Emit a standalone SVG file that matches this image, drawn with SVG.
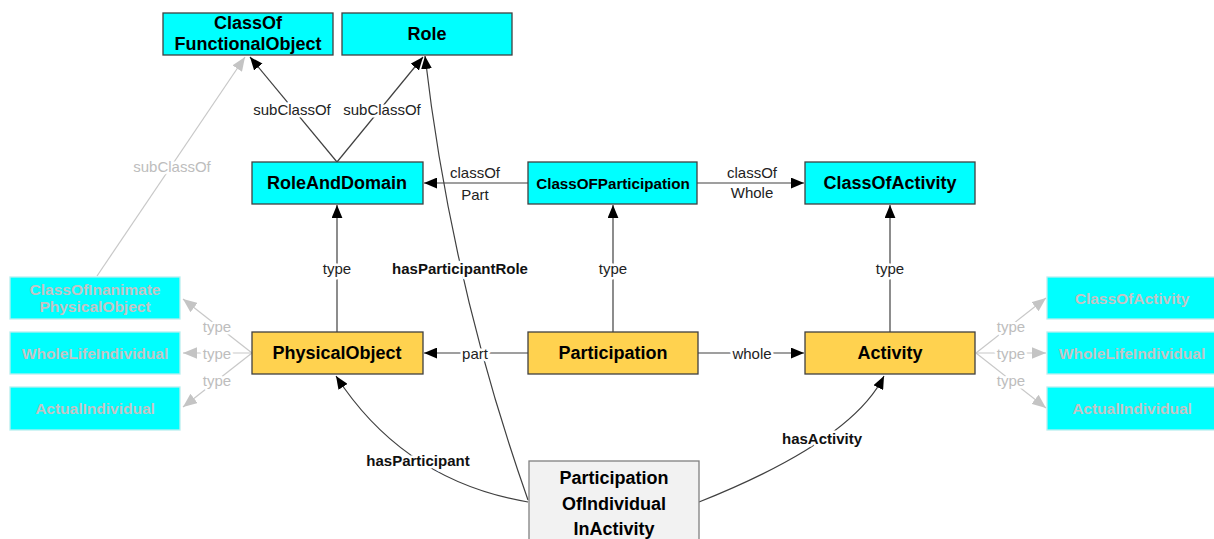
<svg xmlns="http://www.w3.org/2000/svg" width="1214" height="539" viewBox="0 0 1214 539">
<defs>
<style>
.n rect{stroke:#404040;stroke-width:1.3}
.cyan rect{fill:#00FFFF}
.orange rect{fill:#FFD24F}
.grey rect{fill:#F2F2F2;stroke:#808080}
.faded rect{fill:#00FFFF;stroke:#B8EFEF}
.n text{font-family:"Liberation Sans",Arial,sans-serif;font-weight:bold;font-size:18px;fill:#000;text-anchor:middle;dominant-baseline:central}
.faded text{fill:#C4C4C4;font-size:15.5px}
.sm text{font-size:15.2px}
.e{fill:none;stroke:#404040;stroke-width:1.2}
.ef{fill:none;stroke:#C8C8C8;stroke-width:1.2}
.lbl{font-family:"Liberation Sans",Arial,sans-serif;font-size:15px;fill:#222;text-anchor:middle;dominant-baseline:central;paint-order:stroke;stroke:#fff;stroke-width:5px;stroke-linejoin:round}
.lb{font-weight:bold;fill:#111}
.lf{fill:#BDBDBD}
</style>
<marker id="a" viewBox="0 0 12 10" refX="12" refY="5" markerWidth="13" markerHeight="11" markerUnits="userSpaceOnUse" orient="auto"><path d="M0,0 L12,5 L0,10 z" fill="#000"/></marker>
<marker id="af" viewBox="0 0 12 10" refX="12" refY="5" markerWidth="14" markerHeight="12" markerUnits="userSpaceOnUse" orient="auto"><path d="M0,0 L12,5 L0,10 z" fill="#C4C4C4"/></marker>
</defs>
<rect width="1214" height="539" fill="#fff"/>
<g id="connectors">
<path class="e" d="M337,162 L250,57" marker-end="url(#a)"/>
<path class="e" d="M337,162 L423,57" marker-end="url(#a)"/>
<path class="ef" d="M97,276 L245,57" marker-end="url(#af)"/>
<path class="e" d="M528,500 Q451,282 425,56" marker-end="url(#a)"/>
<path class="e" d="M528,183 L424,183" marker-end="url(#a)"/>
<path class="e" d="M697,183 L804,183" marker-end="url(#a)"/>
<path class="e" d="M337,332 L337,205" marker-end="url(#a)"/>
<path class="e" d="M613,332 L613,205" marker-end="url(#a)"/>
<path class="e" d="M890,332 L890,205" marker-end="url(#a)"/>
<path class="e" d="M528,353 L424,353" marker-end="url(#a)"/>
<path class="e" d="M698,353 L804,353" marker-end="url(#a)"/>
<path class="e" d="M528,502 Q404,481 336,376" marker-end="url(#a)"/>
<path class="e" d="M699,502 Q852,441 884,376" marker-end="url(#a)"/>
<path class="ef" d="M252,353 L183,299" marker-end="url(#af)"/>
<path class="ef" d="M252,353 L183,353" marker-end="url(#af)"/>
<path class="ef" d="M252,353 L183,407" marker-end="url(#af)"/>
<path class="ef" d="M976,353 L1046,298" marker-end="url(#af)"/>
<path class="ef" d="M976,353 L1046,353" marker-end="url(#af)"/>
<path class="ef" d="M976,353 L1046,408" marker-end="url(#af)"/>
<text class="lbl" x="292" y="109">subClassOf</text>
<text class="lbl" x="382" y="109">subClassOf</text>
<text class="lbl lf" x="172" y="166">subClassOf</text>
<text class="lbl lb" x="460" y="268">hasParticipantRole</text>
<text class="lbl" x="475" y="172">classOf</text>
<text class="lbl" x="475" y="194">Part</text>
<text class="lbl" x="752" y="172">classOf</text>
<text class="lbl" x="752" y="192">Whole</text>
<text class="lbl" x="337" y="268">type</text>
<text class="lbl" x="613" y="268">type</text>
<text class="lbl" x="890" y="268">type</text>
<text class="lbl" x="475" y="353">part</text>
<text class="lbl" x="752" y="353">whole</text>
<text class="lbl lb" x="418" y="460">hasParticipant</text>
<text class="lbl lb" x="822" y="438">hasActivity</text>
<text class="lbl lf" x="217" y="326">type</text>
<text class="lbl lf" x="217" y="353">type</text>
<text class="lbl lf" x="217" y="380">type</text>
<text class="lbl lf" x="1011" y="326">type</text>
<text class="lbl lf" x="1011" y="353">type</text>
<text class="lbl lf" x="1011" y="380">type</text>
</g>
<g id="ClassOfFunctionalObject" class="n cyan"><rect x="163" y="13" width="170" height="42"/><text x="248" y="23">ClassOf</text><text x="248" y="44">FunctionalObject</text></g>
<g id="Role" class="n cyan"><rect x="342" y="13" width="170" height="42"/><text x="427" y="34">Role</text></g>
<g id="RoleAndDomain" class="n cyan"><rect x="252" y="162" width="171" height="42"/><text x="337" y="183">RoleAndDomain</text></g>
<g id="ClassOFParticipation" class="n cyan sm"><rect x="528" y="162" width="169" height="42"/><text x="613" y="183">ClassOFParticipation</text></g>
<g id="ClassOfActivity" class="n cyan"><rect x="805" y="162" width="170" height="42"/><text x="890" y="183">ClassOfActivity</text></g>
<g id="PhysicalObject" class="n orange"><rect x="252" y="332" width="171" height="42"/><text x="337" y="353">PhysicalObject</text></g>
<g id="Participation" class="n orange"><rect x="528" y="332" width="170" height="42"/><text x="613" y="353">Participation</text></g>
<g id="Activity" class="n orange"><rect x="805" y="332" width="170" height="42"/><text x="890" y="353">Activity</text></g>
<g id="ParticipationOfIndividualInActivity" class="n grey"><rect x="529" y="461" width="170" height="90"/><text x="614" y="478">Participation</text><text x="614" y="504">OfIndividual</text><text x="614" y="529">InActivity</text></g>
<g id="ClassOfInanimatePhysicalObject" class="n faded"><rect x="10" y="277" width="170" height="42"/><text x="95" y="289">ClassOfInanimate</text><text x="95" y="306">PhysicalObject</text></g>
<g id="WholeLifeIndividualL" class="n faded"><rect x="10" y="332" width="170" height="42"/><text x="95" y="353">WholeLifeIndividual</text></g>
<g id="ActualIndividualL" class="n faded"><rect x="10" y="387" width="170" height="43"/><text x="95" y="408">ActualIndividual</text></g>
<g id="ClassOfActivityR" class="n faded"><rect x="1047" y="277" width="170" height="42"/><text x="1132" y="298">ClassOfActivity</text></g>
<g id="WholeLifeIndividualR" class="n faded"><rect x="1047" y="332" width="170" height="42"/><text x="1132" y="353">WholeLifeIndividual</text></g>
<g id="ActualIndividualR" class="n faded"><rect x="1047" y="387" width="170" height="43"/><text x="1132" y="408">ActualIndividual</text></g>
</svg>
